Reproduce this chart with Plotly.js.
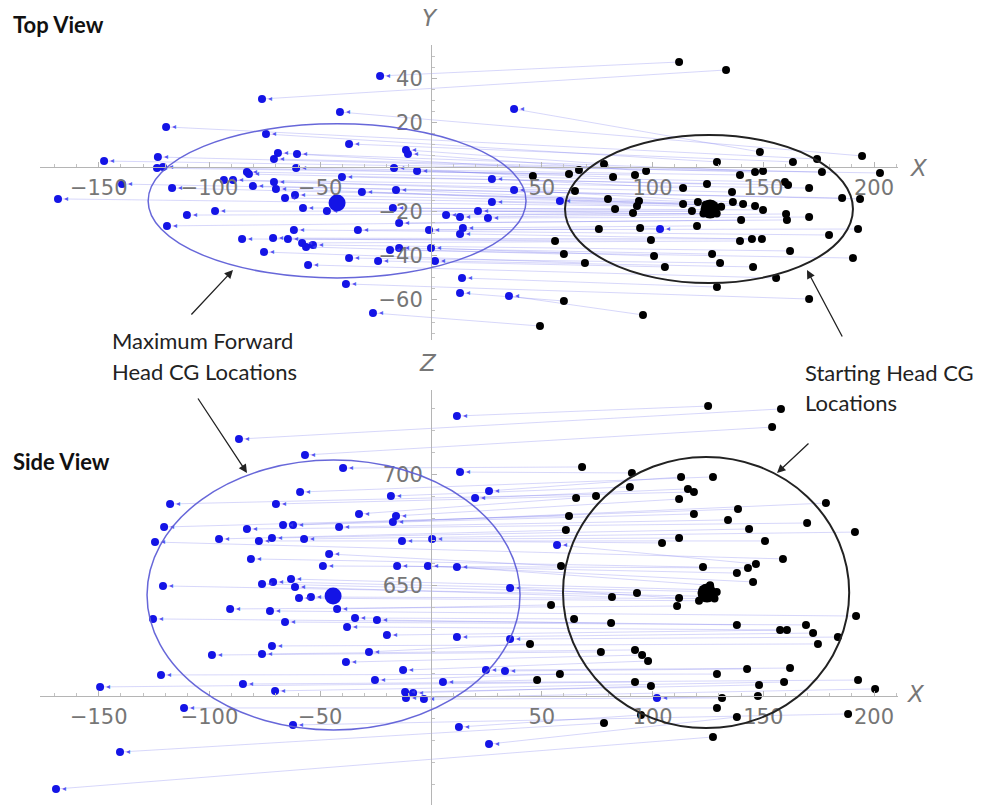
<!DOCTYPE html>
<html>
<head>
<meta charset="utf-8">
<script src="https://cdn.plot.ly/plotly-3.0.1.min.js"></script>
<style>html,body{margin:0;padding:0;background:#fff;}#chart{width:982px;height:805px;}</style>
</head>
<body>
<div id="chart"></div>
<script>
// ---------- DATA ----------
// Top view (X–Y): starting head CG (black) and maximum forward head CG (blue)
const topStartX = [112.0,133.2,148.5,194.6,129.1,163.4,174.3,78.1,66.8,97.1,46.0,62.3,82.2,92.1,139.5,146.3,149.9,176.5,202.7,124.6,113.8,65.0,135.9,159.8,161.2,170.7,185.6,193.7,79.9,93.9,93.0,113.8,120.5,136.3,140.9,146.3,149.9,83.1,91.2,117.8,160.3,160.7,170.7,140.0,120.1,75.8,94.4,192.8,99.3,56.0,139.5,144.9,149.4,179.7,60.0,100.7,126.9,162.1,69.5,105.6,130.5,145.4,190.5,155.8,129.1,60.0,170.7,95.7,49.2,124,129,131,123,127];
const topStartY = [47.4,43.8,6.8,5.0,2.3,2.3,3.6,1.4,-1.4,-1.8,-4.1,-3.2,-4.5,-3.6,-3.6,-2.3,-1.8,-2.3,-2.7,-7.7,-9.5,-10.8,-11.3,-6.8,-8.1,-9.5,-14.0,-14.4,-14.4,-15.3,-17.6,-16.7,-15.8,-15.8,-16.7,-17.6,-19.4,-19.0,-20.8,-19.9,-21.2,-23.9,-22.6,-23.9,-26.6,-28.0,-27.5,-28.0,-33.0,-33.4,-33.4,-32.5,-32.5,-30.7,-39.3,-40.2,-39.3,-37.9,-43.3,-45.1,-43.3,-45.1,-41.1,-50.1,-54.2,-60.5,-59.6,-66.8,-71.8,-17,-21,-18,-21,-20];
const topEndX = [-23.0,-76.3,-41.1,-119.6,-74.5,-37.0,-11.3,-10.4,-69.1,-60.5,-70.9,-123.3,-147.6,-123.7,-121.0,-60.9,-16.7,-6.3,-83.1,-82.2,-89.4,-93.5,-40.2,27.5,-139.5,-116.9,-80.4,-70.9,-70.0,-15.8,-31.2,-61.4,-65.9,-168.4,-47.0,-57.8,27.5,-97.5,-110.2,-17.2,6.8,13.1,21.2,25.7,-14.4,14.4,13.1,-0.9,-33.0,-61.9,-119.2,-85.3,-71.3,-64.6,-58.2,-56.4,-53.3,-75.4,-18.5,-14.4,0,-37.0,-23.9,1.8,-55.5,-38.4,14.0,13.1,-26.2,37.5,37.5,58.2,103.4,35.2];
const topEndY = [41.1,30.7,24.8,18.1,14.9,10.4,7.7,5.9,6.3,5.9,3.6,4.5,2.7,-0.5,0,-0.5,-0.5,-1.8,-2.3,-3.2,-5.9,-5.9,-4.5,-5.4,-7.7,-9.5,-8.6,-6.8,-9.9,-10.4,-11.3,-12.6,-14.0,-14.4,-19.9,-18.5,-15.8,-19.9,-21.7,-18.5,-21.7,-22.6,-19.9,-23.0,-25.3,-27.5,-30.2,-28.4,-28.4,-28.4,-26.6,-32.5,-32.1,-32.5,-34.3,-36.1,-35.2,-38.4,-37.5,-36.6,-36.6,-41.1,-42.4,-42.4,-44.2,-52.8,-50.1,-56.9,-65.9,26.2,-10.4,-15.3,-28.0,-58.2];

// Side view (X–Z)
const sideStartX = [125.1,158.0,154.0,68.2,90.7,89.8,112.9,127.3,116.0,118.7,65.5,74.5,112.0,178.3,62.3,118.7,138.6,134.1,169.8,60.9,143.6,191.4,104.3,112.0,150.8,158.9,58.7,122.8,143.1,146.7,138.1,145.4,81.7,93.0,112.0,111.1,54.2,191.9,64.6,81.3,138.1,157.6,160.7,169.3,172.5,183.7,174.7,44.7,76.7,92.1,95.3,98.0,162.1,142.7,129.1,58.2,47.9,92.1,99.3,148.1,159.4,192.8,200.5,147.6,131.4,129.1,138.1,188.3,94.8,78.1,127.3,123,128,126,121,129,125];
const sideStartZ = [730.9,729.6,721.4,703.4,700.7,694.4,698.9,698.9,693.5,692.1,689.4,690.3,688.9,687.1,681.3,682.2,684.4,679.5,678.1,674.9,675.4,674.0,669.1,671.3,670.0,661.9,658.7,658.2,657.8,659.6,655.5,651.5,644.7,646.5,644.2,640.6,641.1,636.1,634.8,633.0,632.1,629.8,629.8,632.1,628.4,626.6,623.5,623.5,619.9,620.8,618.5,615.8,612.6,612.2,609.9,609.9,607.2,606.3,604.5,605.0,606.3,607.2,603.2,600,599.1,594.6,590.5,591.9,591.4,587.8,581.5,648,644,650,643,647,645];
const sideEndX = [11.7,-86.7,-56.9,-39.7,13.1,-18.1,19.9,26.2,-59.1,-117.8,-70.0,-32.5,-15.8,-17.2,-120.5,-66.8,-62.3,-83.1,-41.5,-124.6,-95.7,-77.7,-71.8,-57.3,-13.1,0.5,-46.0,-81.3,-48.8,-15.3,-1.4,11.7,-121.0,-76.3,-71.3,-63.2,-61.4,-59.6,-54.2,-42.4,-90.7,-72.7,-125.5,-65.9,-34.3,-24.4,-37.9,-19.9,11.7,-98.9,-76.3,-71.8,-28.0,-38.4,-121.9,-12.6,24.8,-84.9,-25.3,5.4,-149.4,-70.4,-11.7,-8.1,-11.3,-3.2,-111.5,-62.3,12.6,26.2,-140.4,-169.3,56.9,35.7,35.7,33.4,102.0];
const sideEndZ = [726.4,716.0,708.8,702.9,701.1,690.3,689.4,692.6,692.1,686.7,686.7,682.2,681.3,678.6,676.3,677.2,677.2,675.4,676.3,669.5,670.9,670.0,671.3,670.9,670.0,670.9,664.1,661.9,658.7,658.7,658.7,658.2,649.7,650.6,651.5,652.8,649.2,644.2,644.7,639.3,639.3,638.4,634.8,633.4,635.2,634.3,631.2,627.5,626.6,618.5,619.0,622.6,619.9,615.3,609.5,611.7,611.7,605.4,607.2,606.3,604.1,602.3,601.8,601.4,599.1,598.6,594.6,586.9,586.0,578.3,574.7,558.0,668.2,648.8,625.7,611.3,599.1];

// Means and spread ellipses: [x, y/z]
const topStartMean = [126.0, -19.0];
const topEndMean = [-42.4, -16.3];
const sideStartMean = [124.6, 646.5];
const sideEndMean = [-44.2, 645.1];
const topStartRadii = [65.0, 33.4];
const topStartCenter = [125.5, -19.0];
const topEndRadii = [85.3, 34.8];
const topEndCenter = [-42.4, -15.3];
const sideStartRadii = [64.6, 61.2];
const sideStartCenter = [124.2, 646.7];
const sideEndRadii = [84.2, 60.9];
const sideEndCenter = [-44.0, 645.6];

// Tick labels
const xTicks = [-150, -100, -50, 50, 100, 150, 200];
const yTicks = [-60, -40, -20, 20, 40];
const zTicks = [650, 700];

// ---------- BUILD ----------
function order(vals) {
  return vals.map((v, i) => i).sort((a, b) => vals[b] - vals[a]);
}
function pairLines(sx, sy, ex, ey) {
  const os = order(sy), oe = order(ey);
  const n = Math.min(os.length, oe.length);
  const lx = [], ly = [];
  for (let k = 0; k < n; k++) {
    lx.push(sx[os[k]], ex[oe[k]], null);
    ly.push(sy[os[k]], ey[oe[k]], null);
  }
  return [lx, ly];
}
const lineStyle = {color: 'rgba(110,110,238,0.28)', width: 1};
const blue = '#1414e6';
const tipFont = {size: 8, color: 'rgba(60,60,240,0.85)', family: 'DejaVu Sans'};

function viewTraces(sx, sy, ex, ey, sMean, eMean, xa, ya) {
  const [lx, ly] = pairLines(sx, sy, ex, ey);
  return [
    {type: 'scatter', mode: 'lines', x: lx, y: ly, line: lineStyle, xaxis: xa, yaxis: ya, hoverinfo: 'skip'},
    {type: 'scatter', mode: 'markers+text', x: ex, y: ey, text: ex.map(() => '◂'), textposition: 'middle right',
     textfont: tipFont, marker: {color: blue, size: 8}, xaxis: xa, yaxis: ya, cliponaxis: false},
    {type: 'scatter', mode: 'markers', x: sx, y: sy, marker: {color: '#000', size: 8}, xaxis: xa, yaxis: ya, cliponaxis: false},
    {type: 'scatter', mode: 'markers', x: [eMean[0]], y: [eMean[1]], marker: {color: blue, size: 17}, xaxis: xa, yaxis: ya},
    {type: 'scatter', mode: 'markers', x: [sMean[0]], y: [sMean[1]], marker: {color: '#000', size: 19}, xaxis: xa, yaxis: ya}
  ];
}

const data = [
  ...viewTraces(topStartX, topStartY, topEndX, topEndY, topStartMean, topEndMean, 'x', 'y'),
  ...viewTraces(sideStartX, sideStartZ, sideEndX, sideEndZ, sideStartMean, sideEndMean, 'x2', 'y2')
];

function ellipse(c, r, xr, yr, col, w) {
  return {type: 'circle', xref: xr, yref: yr, x0: c[0] - r[0], x1: c[0] + r[0], y0: c[1] - r[1], y1: c[1] + r[1],
          line: {color: col, width: w}, fillcolor: 'rgba(0,0,0,0)'};
}

// page geometry
const W = 982, H = 805;
const px = 2.215;          // pixels per data unit
const ox = 431;            // pixel column of X = 0
const xL = 40, xR = 898;   // axis extents (px)
const topAxisY = 167, topT = 45, topB = 340;
const sideAxisY = 696, sideT = 390, sideB = 805;

const tickFont = {family: 'DejaVu Sans, Liberation Sans, sans-serif', size: 21, color: '#767676'};
const common = {
  showgrid: false, zeroline: false, showline: true, linecolor: '#b5b5b5', linewidth: 1,
  ticks: 'inside', ticklen: 5, tickcolor: '#b5b5b5', tickwidth: 1, tickfont: tickFont,
  tickmode: 'array', anchor: 'free', fixedrange: true
};
const xRange = [(xL - ox) / px, (xR - ox) / px];
const xDom = [xL / W, xR / W];
const xMinor = {ticks: 'inside', ticklen: 3, tickcolor: '#c2c2c2', tickmode: 'linear', tick0: 0, dtick: 10};

const layout = {
  width: W, height: H, margin: {l: 0, r: 0, t: 0, b: 0}, showlegend: false,
  paper_bgcolor: '#fff', plot_bgcolor: 'rgba(0,0,0,0)',
  xaxis: Object.assign({}, common, {domain: xDom, range: xRange, position: 1 - topAxisY / H, side: 'bottom',
    tickvals: xTicks, ticklabelstandoff: 2, minor: xMinor}),
  yaxis: Object.assign({}, common, {domain: [1 - topB / H, 1 - topT / H],
    range: [-(topB - topAxisY) / px, (topAxisY - topT) / px], position: ox / W, side: 'left',
    tickvals: yTicks, ticklabelstandoff: 4,
    minor: {ticks: 'inside', ticklen: 3, tickcolor: '#c2c2c2', tickmode: 'linear', tick0: 0, dtick: 5}}),
  xaxis2: Object.assign({}, common, {domain: xDom, range: xRange, position: 1 - sideAxisY / H, side: 'bottom',
    tickvals: xTicks, ticklabelstandoff: 2, minor: xMinor}),
  yaxis2: Object.assign({}, common, {domain: [0, 1 - sideT / H],
    range: [600 - (sideB - sideAxisY) / px, 600 + (sideAxisY - sideT) / px], position: ox / W, side: 'left',
    tickvals: zTicks, ticklabelstandoff: 4,
    minor: {ticks: 'inside', ticklen: 3, tickcolor: '#c2c2c2', tickmode: 'linear', tick0: 600, dtick: 10}}),
  shapes: [
    ellipse(topEndCenter, topEndRadii, 'x', 'y', 'rgba(95,95,215,0.95)', 1.5),
    ellipse(topStartCenter, topStartRadii, 'x', 'y', '#222', 2),
    ellipse(sideEndCenter, sideEndRadii, 'x2', 'y2', 'rgba(95,95,215,0.95)', 1.5),
    ellipse(sideStartCenter, sideStartRadii, 'x2', 'y2', '#222', 2)
  ],
  annotations: []
};

const P = (x, y) => ({x: x / W, y: 1 - y / H});
const axisLetterFont = {family: 'DejaVu Sans, Liberation Sans, sans-serif', size: 23, color: '#777', style: 'italic'};
const titleFont = {family: 'Lato, Open Sans, sans-serif', size: 22, color: '#111', weight: 'bold'};
const noteFont = {family: 'Lato, Open Sans, sans-serif', size: 22, color: '#222'};
function txt(t, x, y, font, xa) {
  const p = P(x, y);
  return {xref: 'paper', yref: 'paper', x: p.x, y: p.y, text: t, showarrow: false, font: font,
          xanchor: xa || 'center', yanchor: 'middle'};
}
function arrow(hx, hy, tx, ty) {
  const p = P(hx, hy);
  return {xref: 'paper', yref: 'paper', x: p.x, y: p.y, ax: tx - hx, ay: ty - hy, text: '', showarrow: true,
          arrowhead: 2, arrowsize: 1.3, arrowwidth: 1.3, arrowcolor: '#222'};
}
layout.annotations.push(
  txt('<b>Top View</b>', 11, 25, titleFont, 'left'),
  txt('<b>Side View</b>', 11, 461, titleFont, 'left'),
  txt('Y', 430, 18, axisLetterFont),
  txt('X', 919, 168, axisLetterFont),
  txt('Z', 428, 363, axisLetterFont),
  txt('X', 916, 694, axisLetterFont),
  txt('Maximum Forward', 110, 340, noteFont, 'left'),
  txt('Head CG Locations', 110, 371, noteFont, 'left'),
  txt('Starting Head CG', 803, 372, noteFont, 'left'),
  txt('Locations', 803, 402, noteFont, 'left'),
  arrow(233, 270, 190, 316),
  arrow(247, 473, 197, 397),
  arrow(807, 270, 843, 338),
  arrow(777, 473, 810, 442)
);

Plotly.newPlot('chart', data, layout, {staticPlot: true, displayModeBar: false});
</script>
</body>
</html>
